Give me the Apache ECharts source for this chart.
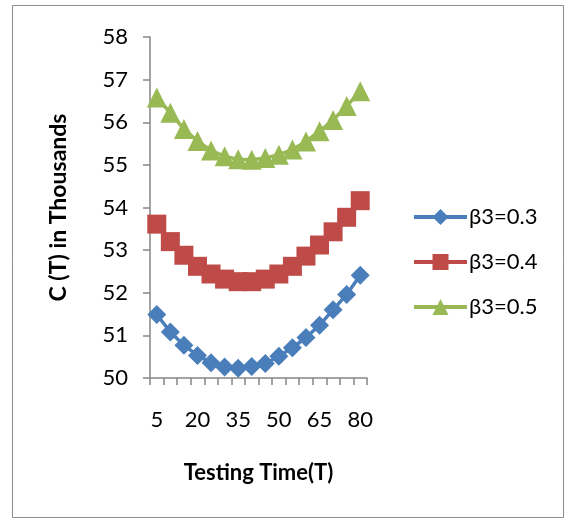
<!DOCTYPE html>
<html><head><meta charset="utf-8">
<script src="https://cdn.jsdelivr.net/npm/echarts@6/dist/echarts.min.js"></script>
<style>html,body{margin:0;padding:0;background:#fff}#c{width:565px;height:520px}</style>
</head><body><div id="c"></div>
<script>
var categories = ['5','10','15','20','25','30','35','40','45','50','55','60','65','70','75','80'];
var seriesNames = ['β3=0.3','β3=0.4','β3=0.5'];
var b03 = [51.49,51.08,50.77,50.53,50.36,50.26,50.23,50.27,50.34,50.51,50.71,50.95,51.24,51.60,51.96,52.41];
var b04 = [53.61,53.20,52.88,52.62,52.44,52.32,52.26,52.26,52.32,52.44,52.62,52.86,53.12,53.43,53.77,54.16];
var b05 = [56.58,56.22,55.84,55.56,55.34,55.20,55.13,55.12,55.16,55.24,55.36,55.55,55.79,56.05,56.38,56.73];
var yTicks = [50,51,52,53,54,55,56,57,58];

var font = 'Lato, "Open Sans", sans-serif';
var colors = ['#4a7ebb','#be4b48','#98b954'];
var chart = echarts.init(document.getElementById('c'));
function mk(name, data, sym, size, col){
  return {name:name,type:'line',data:data,symbol:sym,symbolSize:size,showAllSymbol:true,
    lineStyle:{color:col,width:3.5},itemStyle:{color:col},showSymbol:true,animation:false};
}
chart.setOption({
  animation:false,
  graphic:[{type:'rect',shape:{x:12.5,y:5.5,width:551,height:512},style:{fill:'none',stroke:'#8c8c8c',lineWidth:1}}],
  grid:{left:150,right:198,top:37,bottom:142},
  legend:{orient:'vertical',left:407,top:201,itemWidth:53,itemHeight:20,itemGap:23,
    lineStyle:{width:4},
    textStyle:{fontFamily:font,fontSize:22,color:'#000',padding:[0,0,0,-3]},
    data:seriesNames.map(function(n,i){return {name:n};})},
  xAxis:{type:'category',data:categories,boundaryGap:true,
    name:'Testing Time(T)',nameLocation:'middle',nameGap:84,
    nameTextStyle:{fontFamily:font,fontSize:22,fontWeight:'bold',color:'#000'},
    axisLine:{lineStyle:{color:'#868686',width:1.5}},
    axisTick:{show:true,interval:0,length:7,lineStyle:{color:'#868686',width:1.5}},
    axisLabel:{interval:2,fontFamily:font,fontSize:22,color:'#000',margin:31}},
  yAxis:{type:'value',min:50,max:58,interval:1,
    name:'C (T) in Thousands',nameLocation:'middle',nameGap:80,nameRotate:90,
    nameTextStyle:{fontFamily:font,fontSize:23,fontWeight:'bold',color:'#000'},
    splitLine:{show:false},
    axisLine:{show:true,lineStyle:{color:'#868686',width:1.5}},
    axisTick:{show:true,length:7,lineStyle:{color:'#868686',width:1.5}},
    axisLabel:{fontFamily:font,fontSize:22,color:'#000',margin:22,
      formatter:function(v){return yTicks.indexOf(v)>=0?String(v):'';}}},
  series:[
    mk(seriesNames[0],b03,'diamond',19,colors[0]),
    mk(seriesNames[1],b04,'rect',19,colors[1]),
    mk(seriesNames[2],b05,'triangle',20,colors[2])
  ]
});
</script></body></html>
